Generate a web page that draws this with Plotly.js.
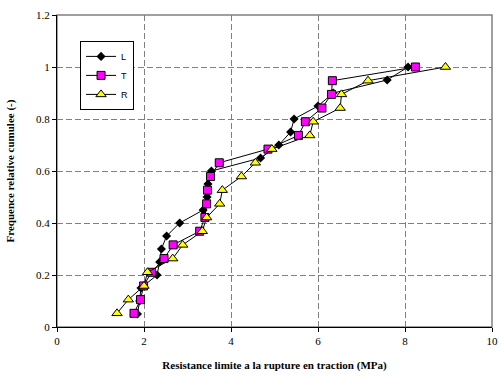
<!DOCTYPE html>
<html>
<head>
<meta charset="utf-8">
<script src="https://cdn.plot.ly/plotly-3.0.1.min.js"></script>
<style>html,body{margin:0;padding:0;background:#fff;}#chart{width:501px;height:376px;}</style>
</head>
<body>
<div id="chart"></div>
<script>
// Series L (20 samples)
const xL = [1.85, 1.90, 1.93, 2.30, 2.36, 2.40, 2.52, 2.82, 3.36, 3.45, 3.47, 3.55, 4.68, 5.10, 5.37, 5.45, 6.00, 6.35, 7.59, 8.07];
const yL = [0.05, 0.10, 0.15, 0.20, 0.25, 0.30, 0.35, 0.40, 0.45, 0.50, 0.55, 0.60, 0.65, 0.70, 0.75, 0.80, 0.85, 0.90, 0.95, 1.00];
// Series T (19 samples)
const xT = [1.77, 1.92, 1.99, 2.17, 2.46, 2.67, 3.28, 3.40, 3.44, 3.46, 3.53, 3.73, 4.85, 5.55, 5.71, 6.09, 6.31, 6.33, 8.24];
const yT = [0.0526, 0.1053, 0.1579, 0.2105, 0.2632, 0.3158, 0.3684, 0.4211, 0.4737, 0.5263, 0.5789, 0.6316, 0.6842, 0.7368, 0.7895, 0.8421, 0.8947, 0.9474, 1.0];
// Series R (19 samples)
const xR = [1.38, 1.64, 2.00, 2.08, 2.66, 2.89, 3.34, 3.44, 3.74, 3.80, 4.24, 4.56, 4.94, 5.81, 5.89, 6.51, 6.54, 7.15, 8.93];
const yR = [0.0526, 0.1053, 0.1579, 0.2105, 0.2632, 0.3158, 0.3684, 0.4211, 0.4737, 0.5263, 0.5789, 0.6316, 0.6842, 0.7368, 0.7895, 0.8421, 0.8947, 0.9474, 1.0];

const names = ['L', 'T', 'R'];
const xTitle = '<b>Resistance limite a la rupture en traction (MPa)</b>';
const yTitle = '<b>Frequence relative cumulee (-)</b>';

const serif = 'Liberation Serif';
const sans = 'Liberation Sans';

const traces = [
  {x: xL, y: yL, name: names[0], type: 'scatter', mode: 'lines+markers',
   line: {color: '#000000', width: 1},
   marker: {symbol: 'diamond', size: 7, color: '#000000', line: {color: '#000000', width: 0}}},
  {x: xT, y: yT, name: names[1], type: 'scatter', mode: 'lines+markers',
   line: {color: '#000000', width: 1},
   marker: {symbol: 'square', size: 8, color: '#FF00FF', line: {color: '#000000', width: 1}}},
  {x: xR, y: yR, name: names[2], type: 'scatter', mode: 'lines+markers',
   line: {color: '#000000', width: 1},
   marker: {symbol: 'triangle-up', size: 9, color: '#FFFF00', line: {color: '#000000', width: 1}}}
];

const layout = {
  width: 501, height: 376,
  margin: {l: 57, r: 9, t: 15, b: 49},
  paper_bgcolor: '#ffffff', plot_bgcolor: '#ffffff',
  showlegend: true,
  legend: {x: 0.053, y: 0.917, xanchor: 'left', yanchor: 'top',
    bgcolor: '#ffffff', bordercolor: '#000000', borderwidth: 1,
    font: {family: sans, size: 9, color: '#000000'},
    itemwidth: 30, tracegroupgap: 0},
  xaxis: {range: [0, 10], dtick: 2, tick0: 0,
    showgrid: true, gridcolor: '#808080', gridwidth: 1, griddash: '6px,3px',
    zeroline: false, showline: true, linecolor: '#000000', linewidth: 1,
    ticks: 'outside', ticklen: 4, tickcolor: '#000000',
    tickfont: {family: serif, size: 11, color: '#000000'},
    title: {text: xTitle, font: {family: serif, size: 11, color: '#000000'}, standoff: 15}},
  yaxis: {range: [0, 1.2], dtick: 0.2, tick0: 0,
    showgrid: true, gridcolor: '#808080', gridwidth: 1, griddash: '6px,3px',
    zeroline: false, showline: true, linecolor: '#000000', linewidth: 1,
    ticks: 'outside', ticklen: 4, tickcolor: '#000000',
    tickfont: {family: serif, size: 11, color: '#000000'},
    title: {text: yTitle, font: {family: serif, size: 11, color: '#000000'}, standoff: 19}},
  shapes: [{type: 'rect', xref: 'paper', yref: 'paper', x0: 0, x1: 1, y0: 0, y1: 1,
    line: {color: '#808080', width: 1.5}, layer: 'below'}]
};

Plotly.newPlot('chart', traces, layout, {displayModeBar: false, staticPlot: true});
</script>
</body>
</html>
